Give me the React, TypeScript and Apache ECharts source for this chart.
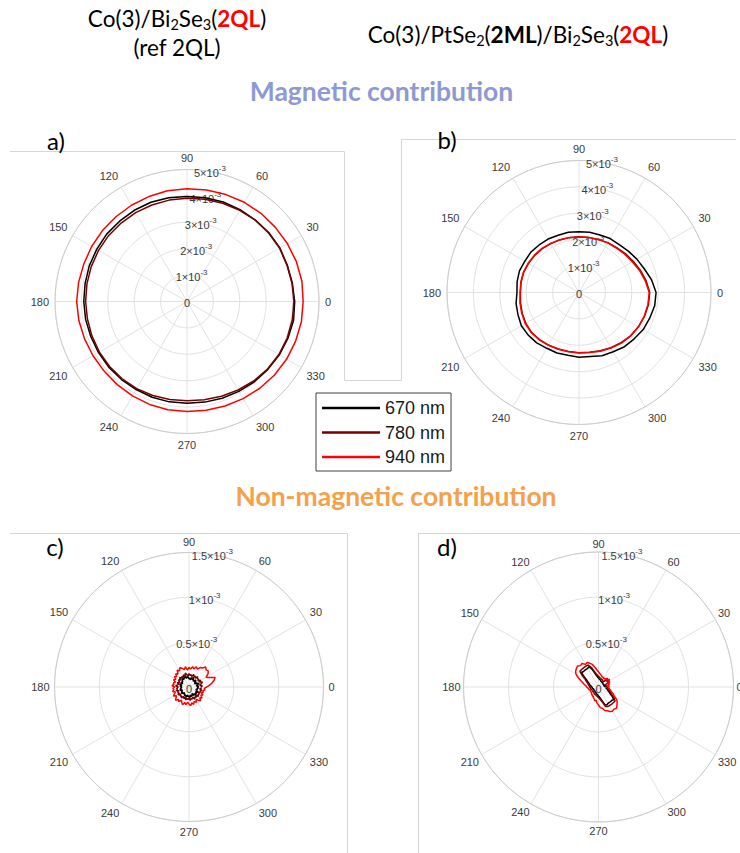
import React, { useEffect, useRef } from 'react';
import * as echarts from 'echarts';

// Angles (degrees)
const ANG10 = [0, 10, 20, 30, 40, 50, 60, 70, 80, 90, 100, 110, 120, 130, 140, 150, 160, 170,
  180, 190, 200, 210, 220, 230, 240, 250, 260, 270, 280, 290, 300, 310, 320, 330, 340, 350];
const ANG5 = [0, 5, 10, 15, 20, 25, 30, 35, 40, 45,
  50, 55, 60, 65, 70, 75, 80, 85, 90, 95,
  100, 105, 110, 115, 120, 125, 130, 135, 140, 145,
  150, 155, 160, 165, 170, 175, 180, 185, 190, 195,
  200, 205, 210, 215, 220, 225, 230, 235, 240, 245,
  250, 255, 260, 265, 270, 275, 280, 285, 290, 295,
  300, 305, 310, 315, 320, 325, 330, 335, 340, 345,
  350, 355];

const SERIES_NAMES = ['670 nm', '780 nm', '940 nm'];
const SERIES_COLORS = ['#000000', '#7a0000', '#ff0000'];

// Radius values in units of 10^-3
// a) Co(3)/Bi2Se3(2QL) magnetic
const A_670 = [4.08, 4.05, 4.04, 4.06, 4.05, 4.03, 4.02, 4.01, 3.99, 3.98, 3.99, 4.00, 3.99, 3.97, 3.97, 3.95, 3.94, 3.92,
  3.91, 3.90, 3.88, 3.87, 3.87, 3.86, 3.85, 3.86, 3.86, 3.85, 3.87, 3.90, 3.93, 3.97, 4.00, 4.04, 4.07, 4.10];
const A_780 = [4.05, 4.04, 4.03, 4.05, 4.04, 4.02, 3.99, 3.96, 3.93, 3.91, 3.90, 3.89, 3.89, 3.88, 3.88, 3.87, 3.86, 3.85,
  3.84, 3.83, 3.83, 3.83, 3.83, 3.82, 3.81, 3.79, 3.77, 3.76, 3.78, 3.82, 3.87, 3.93, 3.98, 4.02, 4.04, 4.05];
const A_940 = [4.40, 4.42, 4.41, 4.39, 4.37, 4.36, 4.34, 4.31, 4.29, 4.27, 4.26, 4.23, 4.21, 4.19, 4.18, 4.17, 4.16, 4.17,
  4.18, 4.16, 4.13, 4.11, 4.10, 4.11, 4.13, 4.15, 4.16, 4.17, 4.18, 4.21, 4.25, 4.29, 4.33, 4.36, 4.38, 4.40];

// b) Co(3)/PtSe2(2ML)/Bi2Se3(2QL) magnetic
const B_670 = [2.92, 2.79, 2.63, 2.53, 2.44, 2.37, 2.36, 2.32, 2.32, 2.30, 2.32, 2.31, 2.34, 2.35, 2.38, 2.37, 2.40, 2.38,
  2.35, 2.42, 2.46, 2.52, 2.51, 2.49, 2.44, 2.44, 2.41, 2.45, 2.46, 2.55, 2.59, 2.68, 2.73, 2.81, 2.85, 2.91];
const B_780 = [2.68, 2.58, 2.47, 2.37, 2.29, 2.22, 2.18, 2.14, 2.12, 2.11, 2.11, 2.12, 2.14, 2.17, 2.19, 2.21, 2.23, 2.23,
  2.22, 2.25, 2.29, 2.33, 2.35, 2.33, 2.30, 2.28, 2.27, 2.28, 2.30, 2.35, 2.41, 2.48, 2.55, 2.60, 2.64, 2.67];
const B_940 = [2.66, 2.55, 2.44, 2.33, 2.26, 2.20, 2.17, 2.13, 2.12, 2.10, 2.12, 2.13, 2.15, 2.18, 2.20, 2.22, 2.24, 2.24,
  2.23, 2.27, 2.31, 2.35, 2.36, 2.34, 2.31, 2.29, 2.28, 2.29, 2.31, 2.37, 2.43, 2.50, 2.56, 2.60, 2.63, 2.65];

// c) Co(3)/Bi2Se3(2QL) non-magnetic
const C_670 = [0.09, 0.11, 0.08, 0.10, 0.12, 0.09, 0.07, 0.10, 0.08, 0.11,
  0.09, 0.08, 0.10, 0.12, 0.09, 0.11, 0.08, 0.10, 0.09, 0.11,
  0.12, 0.10, 0.13, 0.11, 0.12, 0.10, 0.12, 0.11, 0.09, 0.10,
  0.08, 0.10, 0.09, 0.11, 0.08, 0.10, 0.09, 0.08, 0.10, 0.09,
  0.11, 0.08, 0.10, 0.09, 0.11, 0.10, 0.08, 0.10, 0.09, 0.11,
  0.10, 0.12, 0.09, 0.11, 0.10, 0.12, 0.09, 0.11, 0.10, 0.08,
  0.11, 0.09, 0.12, 0.10, 0.11, 0.09, 0.12, 0.10, 0.08, 0.10,
  0.09, 0.11];
const C_780 = [0.13, 0.15, 0.12, 0.14, 0.16, 0.13, 0.15, 0.12, 0.14, 0.13,
  0.15, 0.12, 0.14, 0.13, 0.15, 0.12, 0.14, 0.13, 0.15, 0.12,
  0.14, 0.16, 0.13, 0.15, 0.12, 0.14, 0.13, 0.15, 0.12, 0.14,
  0.13, 0.11, 0.14, 0.12, 0.13, 0.15, 0.12, 0.14, 0.13, 0.15,
  0.12, 0.14, 0.13, 0.15, 0.12, 0.14, 0.13, 0.15, 0.12, 0.14,
  0.12, 0.15, 0.13, 0.14, 0.12, 0.15, 0.13, 0.14, 0.12, 0.15,
  0.13, 0.14, 0.12, 0.15, 0.13, 0.14, 0.12, 0.14, 0.13, 0.15,
  0.12, 0.14];
const C_940 = [0.20, 0.23, 0.26, 0.29, 0.31, 0.25, 0.22, 0.26, 0.28, 0.27,
  0.29, 0.26, 0.25, 0.22, 0.24, 0.21, 0.23, 0.20, 0.22, 0.19,
  0.23, 0.20, 0.22, 0.24, 0.21, 0.23, 0.19, 0.21, 0.18, 0.20,
  0.17, 0.19, 0.16, 0.18, 0.17, 0.19, 0.16, 0.18, 0.17, 0.19,
  0.16, 0.18, 0.20, 0.17, 0.19, 0.21, 0.18, 0.20, 0.17, 0.19,
  0.21, 0.18, 0.20, 0.17, 0.19, 0.21, 0.18, 0.20, 0.17, 0.19,
  0.16, 0.18, 0.20, 0.17, 0.19, 0.16, 0.18, 0.15, 0.17, 0.16,
  0.18, 0.17];

// d) Co(3)/PtSe2(2ML)/Bi2Se3(2QL) non-magnetic
const D_670 = [0.08, 0.07, 0.07, 0.06, 0.07, 0.06, 0.06, 0.06, 0.06, 0.07,
  0.06, 0.06, 0.07, 0.07, 0.07, 0.08, 0.08, 0.09, 0.10, 0.11,
  0.13, 0.16, 0.21, 0.25, 0.24, 0.24, 0.24, 0.24, 0.25, 0.19,
  0.15, 0.13, 0.11, 0.10, 0.09, 0.08, 0.08, 0.07, 0.07, 0.07,
  0.06, 0.06, 0.06, 0.06, 0.06, 0.06, 0.06, 0.06, 0.07, 0.07,
  0.07, 0.08, 0.08, 0.09, 0.10, 0.11, 0.13, 0.16, 0.21, 0.22,
  0.21, 0.21, 0.21, 0.21, 0.22, 0.19, 0.15, 0.13, 0.11, 0.10,
  0.09, 0.08];
const D_780 = [0.10, 0.09, 0.09, 0.08, 0.09, 0.12, 0.14, 0.11, 0.13, 0.09,
  0.08, 0.08, 0.09, 0.09, 0.09, 0.10, 0.10, 0.11, 0.12, 0.13,
  0.15, 0.18, 0.23, 0.27, 0.27, 0.27, 0.27, 0.27, 0.27, 0.22,
  0.17, 0.15, 0.13, 0.12, 0.11, 0.10, 0.10, 0.09, 0.09, 0.09,
  0.08, 0.08, 0.08, 0.08, 0.08, 0.08, 0.08, 0.08, 0.09, 0.09,
  0.09, 0.10, 0.10, 0.11, 0.12, 0.13, 0.15, 0.18, 0.23, 0.24,
  0.24, 0.24, 0.24, 0.24, 0.24, 0.21, 0.17, 0.15, 0.13, 0.12,
  0.11, 0.10];
const D_940 = [0.11, 0.12, 0.10, 0.13, 0.11, 0.14, 0.12, 0.15, 0.12, 0.14,
  0.11, 0.12, 0.11, 0.12, 0.12, 0.13, 0.14, 0.15, 0.17, 0.19,
  0.22, 0.26, 0.28, 0.30, 0.29, 0.32, 0.31, 0.33, 0.32, 0.31,
  0.29, 0.25, 0.21, 0.18, 0.16, 0.14, 0.13, 0.12, 0.11, 0.11,
  0.10, 0.10, 0.10, 0.10, 0.10, 0.11, 0.11, 0.12, 0.12, 0.13,
  0.14, 0.16, 0.15, 0.18, 0.20, 0.23, 0.24, 0.27, 0.28, 0.30,
  0.31, 0.30, 0.31, 0.29, 0.27, 0.25, 0.20, 0.18, 0.15, 0.14,
  0.12, 0.12];

// Radius axis ranges (units of 10^-3)
const RADIUS_MAX = [5, 5, 1.5, 1.5];
const RADIUS_STEP = [1, 1, 0.5, 0.5];

const PANELS = [
  { center: [187, 301.5], radius: 132, ang: ANG10, data: [A_670, A_780, A_940], labelMargin: 6 },
  { center: [579, 292.5], radius: 132, ang: ANG10, data: [B_670, B_780, B_940], labelMargin: 6 },
  { center: [189, 687], radius: 134.5, ang: ANG5, data: [C_670, C_780, C_940], labelMargin: 5 },
  { center: [598.5, 687], radius: 135, ang: ANG5, data: [D_670, D_780, D_940], labelMargin: 3 },
];

const LABEL_COLOR = '#3a3a3a';
const GRID_COLOR = '#e2e2e2';
const FRAME_COLOR = '#d6d6d6';

function buildOption() {
  const polar: any[] = [];
  const angleAxis: any[] = [];
  const radiusAxis: any[] = [];
  const series: any[] = [];
  const n = PANELS.length;

  PANELS.forEach((p, i) => {
    polar.push({ center: p.center, radius: p.radius });
    angleAxis.push({
      polarIndex: i,
      type: 'value',
      min: 0,
      max: 360,
      interval: 30,
      startAngle: 0,
      clockwise: false,
      axisLine: { show: true, lineStyle: { color: '#cdcdcd', width: 1 } },
      axisTick: { show: false },
      axisLabel: { show: true, margin: p.labelMargin, color: LABEL_COLOR, fontSize: 11, fontFamily: 'Liberation Sans' },
      splitLine: { show: true, lineStyle: { color: GRID_COLOR, width: 1 } },
    });
    radiusAxis.push({
      polarIndex: i,
      type: 'value',
      min: 0,
      max: RADIUS_MAX[i],
      interval: RADIUS_STEP[i],
      axisLine: { show: false },
      axisTick: { show: false },
      axisLabel: { show: false },
      splitLine: { show: true, lineStyle: { color: GRID_COLOR, width: 1 } },
    });
    p.data.forEach((vals, j) => {
      const pts = vals.map((r, k) => [r, p.ang[k]]);
      pts.push([vals[0], 360]);
      series.push({
        type: 'line',
        name: SERIES_NAMES[j],
        coordinateSystem: 'polar',
        polarIndex: i,
        data: pts,
        symbol: 'none',
        smooth: false,
        silent: true,
        z: 3 + j,
        lineStyle: { color: SERIES_COLORS[j], width: 1.5 },
        itemStyle: { color: SERIES_COLORS[j] },
      });
    });
  });

  // overlay polar systems: only carry radial tick labels along the 80 deg ray
  PANELS.forEach((p, i) => {
    polar.push({ center: p.center, radius: p.radius });
    angleAxis.push({
      polarIndex: n + i,
      type: 'value',
      min: 0,
      max: 360,
      startAngle: 80,
      clockwise: false,
      show: false,
    });
    radiusAxis.push({
      polarIndex: n + i,
      type: 'value',
      min: 0,
      max: RADIUS_MAX[i],
      interval: RADIUS_STEP[i],
      axisLine: { show: false },
      axisTick: { show: false },
      splitLine: { show: false },
      axisLabel: {
        show: true,
        margin: 0,
        align: 'center',
        verticalAlign: 'middle',
        formatter: (v: number) => (v === 0 ? '{b|0}' : `{b|${v}×10}{s|-3}`),
        rich: {
          b: { fontSize: 11, color: LABEL_COLOR, fontFamily: 'Liberation Sans', lineHeight: 14, verticalAlign: 'bottom' },
          s: { fontSize: 8, color: LABEL_COLOR, fontFamily: 'Liberation Sans', lineHeight: 8, verticalAlign: 'top' },
        },
      },
    });
  });

  const TF = 22.5;
  const titleRich = {
    n: { fontFamily: 'Lato', fontSize: TF, fill: '#000', lineHeight: 23 },
    s: { fontFamily: 'Lato', fontSize: 14.5, fill: '#000', lineHeight: 10, verticalAlign: 'top', padding: [10, 0, 0, 0] },
    r: { fontFamily: 'Lato', fontSize: TF, fontWeight: 'bold', fill: '#ff0000', lineHeight: 23 },
    k: { fontFamily: 'Lato', fontSize: TF, fontWeight: 'bold', fill: '#000', lineHeight: 23 },
  };

  const letter = (t: string, x: number, y: number) => ({
    type: 'text', x, y, z: 10,
    style: { text: t, fontFamily: 'Lato', fontSize: 24, fill: '#000', align: 'center', verticalAlign: 'middle' },
  });

  const graphic = [
    {
      type: 'polyline', z: 0,
      shape: { points: [[10, 151.5], [344.5, 151.5], [344.5, 380.5], [401.5, 380.5], [401.5, 139.5], [736, 139.5]] },
      style: { stroke: FRAME_COLOR, lineWidth: 1, fill: 'none' },
    },
    {
      type: 'polyline', z: 0,
      shape: { points: [[10, 533.5], [347.5, 533.5], [347.5, 853]] },
      style: { stroke: FRAME_COLOR, lineWidth: 1, fill: 'none' },
    },
    {
      type: 'polyline', z: 0,
      shape: { points: [[418.5, 853], [418.5, 533.5], [740, 533.5]] },
      style: { stroke: FRAME_COLOR, lineWidth: 1, fill: 'none' },
    },
    {
      type: 'text', x: 177, y: 18, z: 10,
      style: { text: '{n|Co(3)/Bi}{s|2}{n|Se}{s|3}{n|(}{r|2QL}{n|)}', rich: titleRich, align: 'center', verticalAlign: 'middle' },
    },
    {
      type: 'text', x: 177, y: 47, z: 10,
      style: { text: '(ref 2QL)', fontFamily: 'Lato', fontSize: TF, lineHeight: 23, fill: '#000', align: 'center', verticalAlign: 'middle' },
    },
    {
      type: 'text', x: 518, y: 34, z: 10,
      style: {
        text: '{n|Co(3)/PtSe}{s|2}{n|(}{k|2ML}{n|)/Bi}{s|2}{n|Se}{s|3}{n|(}{r|2QL}{n|)}',
        rich: titleRich, align: 'center', verticalAlign: 'middle',
      },
    },
    {
      type: 'text', x: 381.5, y: 91, z: 10,
      style: { text: 'Magnetic contribution', fontFamily: 'Lato', fontSize: 26.5, fontWeight: 'bold', fill: '#8c99d4', align: 'center', verticalAlign: 'middle' },
    },
    {
      type: 'text', x: 396, y: 496, z: 10,
      style: { text: 'Non-magnetic contribution', fontFamily: 'Lato', fontSize: 26.5, fontWeight: 'bold', fill: '#f5a04a', align: 'center', verticalAlign: 'middle' },
    },
    letter('a)', 56, 140),
    letter('b)', 447, 139),
    letter('c)', 55, 546),
    letter('d)', 447, 546),
  ];

  return {
    animation: false,
    backgroundColor: '#ffffff',
    textStyle: { fontFamily: 'Liberation Sans' },
    polar,
    angleAxis,
    radiusAxis,
    legend: {
      data: SERIES_NAMES.map((name) => ({ name, icon: 'rect' })),
      orient: 'vertical',
      left: 316,
      top: 393,
      itemWidth: 58,
      itemHeight: 2.5,
      itemGap: 6.5,
      padding: [6, 6, 5, 6],
      borderColor: '#404040',
      borderWidth: 1,
      backgroundColor: '#ffffff',
      selectedMode: false,
      textStyle: { fontSize: 18, color: '#1a1a1a', fontFamily: 'Liberation Sans' },
    },
    graphic,
    series,
  };
}

export default function App() {
  const ref = useRef<HTMLDivElement>(null);
  useEffect(() => {
    if (!ref.current) return;
    const chart = echarts.init(ref.current, undefined, { renderer: 'svg' });
    chart.setOption(buildOption() as any);
    return () => chart.dispose();
  }, []);
  return (
    <div
      ref={ref}
      style={{ position: 'absolute', left: 0, top: 0, width: 740, height: 853, background: '#fff' }}
    />
  );
}
